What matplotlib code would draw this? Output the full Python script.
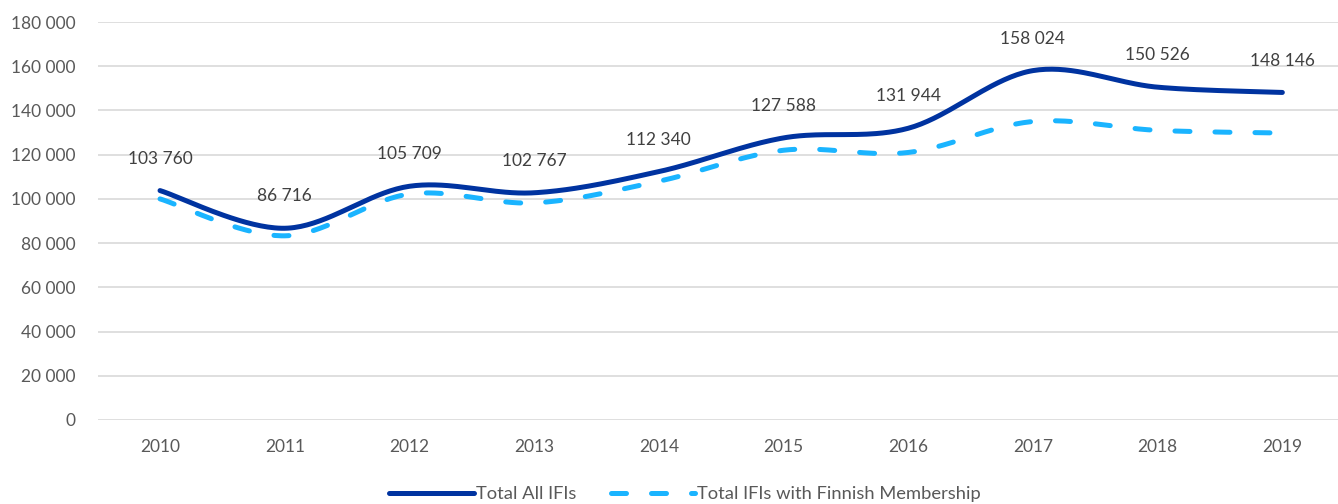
import numpy as np
import matplotlib
matplotlib.use("Agg")
import matplotlib.pyplot as plt
from matplotlib.ticker import FuncFormatter

years = ["2010", "2011", "2012", "2013", "2014", "2015", "2016", "2017", "2018", "2019"]
total_all = [103760, 86716, 105709, 102767, 112340, 127588, 131944, 158024, 150526, 148146]
total_finnish = [100000, 83300, 102200, 98200, 108000, 122000, 121000, 135000, 131000, 129800]
labels = ["103 760", "86 716", "105 709", "102 767", "112 340", "127 588", "131 944", "158 024", "150 526", "148 146"]

plt.rcParams['font.family'] = ['Lato', 'DejaVu Sans']


def smooth(xs, ys, n=40):
    """Excel-like smoothed line (Catmull-Rom Bezier through the data points)."""
    xs = np.asarray(xs, float)
    ys = np.asarray(ys, float)
    px = np.concatenate([[xs[0]], xs, [xs[-1]]])
    py = np.concatenate([[ys[0]], ys, [ys[-1]]])
    ox, oy = [], []
    t = np.linspace(0, 1, n)
    for i in range(1, len(px) - 2):
        p0 = np.array([px[i], py[i]])
        p3 = np.array([px[i + 1], py[i + 1]])
        p1 = p0 + (np.array([px[i + 1], py[i + 1]]) - np.array([px[i - 1], py[i - 1]])) / 6
        p2 = p3 - (np.array([px[i + 2], py[i + 2]]) - np.array([px[i], py[i]])) / 6
        b = ((1 - t) ** 3)[:, None] * p0 + (3 * (1 - t) ** 2 * t)[:, None] * p1 + \
            (3 * (1 - t) * t ** 2)[:, None] * p2 + (t ** 3)[:, None] * p3
        ox.extend(b[:, 0])
        oy.extend(b[:, 1])
    return np.array(ox), np.array(oy)


fig = plt.figure(figsize=(13.38, 5.04), dpi=100)
ax = fig.add_axes([0.073, 0.1667, 0.932, 0.7896])

x = np.arange(len(years))
sx, sy = smooth(x, total_all)
dx, dy = smooth(x, total_finnish)

ax.plot(sx, sy, color="#0033A0", lw=3.6, solid_capstyle="round", label="Total All IFIs", zorder=3)
ax.plot(dx, dy, color="#1AB4FF", lw=3.6, dashes=(3, 5), dash_capstyle="round",
        label="Total IFIs with Finnish Membership", zorder=2)

for xi, v, lab in zip(x, total_all, labels):
    ax.annotate(lab, (xi, v), xytext=(0, 23), textcoords="offset points",
                ha="center", va="center", fontsize=12.5, color="#404040")

ax.set_ylim(0, 180000)
ax.set_xlim(-0.5, 9.5)
ax.set_yticks(np.arange(0, 180001, 20000))
ax.yaxis.set_major_formatter(FuncFormatter(lambda v, p: f"{int(v):,}".replace(",", " ")))
ax.set_xticks(x)
ax.set_xticklabels(years)
ax.grid(axis="y", color="#D9D9D9", lw=1.2)
ax.set_axisbelow(True)
for s in ax.spines.values():
    s.set_visible(False)
ax.tick_params(length=0, labelsize=12.5, colors="#595959")
ax.tick_params(axis="y", pad=16)
ax.tick_params(axis="x", pad=14)

leg = fig.legend(loc="center", bbox_to_anchor=(0.512, 0.02), ncol=2, frameon=False,
                 fontsize=13.2, handlelength=4.6, columnspacing=1.9, handletextpad=0.1)
for t in leg.get_texts():
    t.set_color("#595959")

fig.savefig("out.png", dpi=100)
